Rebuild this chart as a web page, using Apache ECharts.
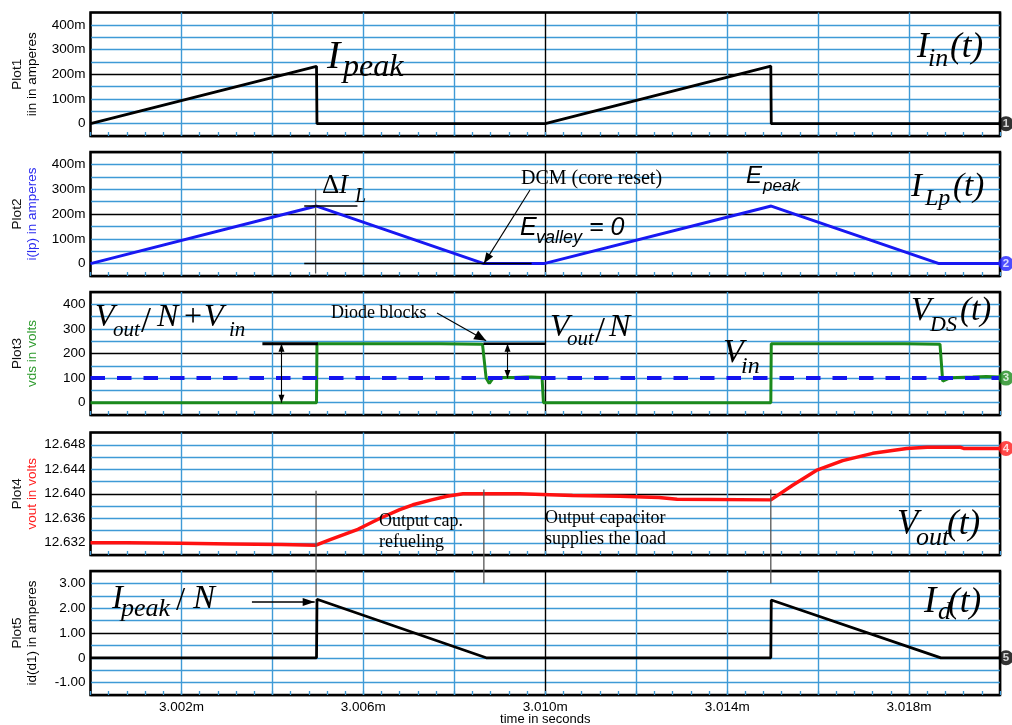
<!DOCTYPE html>
<html>
<head>
<meta charset="utf-8">
<script src="https://cdn.jsdelivr.net/npm/echarts@6/dist/echarts.min.js"></script>
<style>
html,body{margin:0;padding:0;background:#fff;}
#chart{width:1012px;height:725px;}
</style>
</head>
<body>
<div id="chart"></div>
<script>
// Flyback converter waveforms, time in microseconds (3000 us = 3.000 ms)

// Plot1: input current iin (A)
const iinT = [3000, 3004.97, 3004.98, 3010, 3014.96, 3014.97, 3020];
const iinV = [0, 0.232, 0, 0, 0.233, 0, 0];

// Plot2: primary inductor current i(lp) (A)
const ilpT = [3000, 3004.97, 3008.65, 3009.97, 3014.97, 3018.66, 3020];
const ilpV = [0, 0.232, 0, 0, 0.232, 0, 0];

// Plot3: drain-source voltage vds (V) and input voltage level
const vdsT = [3000, 3004.97, 3004.98, 3007.7, 3007.72, 3008.62, 3008.7, 3008.77, 3008.86, 3009.3, 3009.6, 3009.7, 3009.93, 3009.96,
              3014.96, 3014.97, 3017.9, 3017.92, 3018.68, 3018.74, 3018.78, 3018.9, 3019.4, 3019.7, 3020];
const vdsV = [0, 0, 240, 240, 238, 238, 100, 78, 102, 102, 104, 104, 102, 0,
              0, 240, 240, 238, 238, 88, 96, 101, 104, 106, 104];
const vinT = [3000, 3020];
const vinV = [100, 100];

// Plot4: output voltage vout (V)
const voutT = [3000, 3000.8, 3000.82, 3001.97, 3001.99, 3003.1, 3003.12, 3004.2, 3004.22, 3004.96, 3005.27, 3005.88,
               3006.37, 3006.8, 3007.09, 3007.5, 3007.84, 3008.19, 3009.44, 3009.46, 3010.6, 3010.62, 3011.64, 3011.66,
               3012.5, 3012.9, 3014.96, 3015.44, 3015.96, 3016.54, 3017.2, 3017.95, 3018.4, 3019.12, 3019.2, 3020];
const voutV = [12.6320, 12.6320, 12.6319, 12.6319, 12.6318, 12.6318, 12.6317, 12.6317, 12.6316, 12.6316, 12.6325, 12.6342,
               12.6360, 12.6374, 12.6382, 12.6390, 12.6396, 12.6400, 12.6400, 12.6397, 12.6397, 12.6396, 12.6396, 12.6395,
               12.6394, 12.6391, 12.6390, 12.6414, 12.6438, 12.6454, 12.6466, 12.6474, 12.6476, 12.6476, 12.6474, 12.6474];

// Plot5: diode current id(d1) (A)
const idT = [3000, 3004.97, 3004.98, 3008.7, 3014.96, 3014.97, 3018.7, 3020];
const idV = [0, 0, 2.36, 0, 0, 2.33, 0, 0];

// Axis captions
const plotNames = ['Plot1', 'Plot2', 'Plot3', 'Plot4', 'Plot5'];
const axisNames = ['iin in amperes', 'i(lp) in amperes', 'vds in volts', 'vout in volts', 'id(d1) in amperes'];
const xAxisName = 'time in seconds';

const SANS = '"Liberation Sans", Arial, sans-serif';
const SERIF = '"Liberation Serif", "Times New Roman", serif';
const B = '#3f9ad6';
const K = '#000';
const lineColors = ['#000', '#1818f2', '#1c8a1c', '#ff1111', '#000'];
const nameColors = ['#000', '#2a2af0', '#2e9b2e', '#ff2020', '#000'];
const gridColors = [K, B, B, B, B, K, B, B, B, B, K];

const pts = (t, v) => t.map((x, i) => [x, v[i]]);

const grids = [
  {top: 12.5, height: 123.5},
  {top: 152, height: 124},
  {top: 292, height: 123},
  {top: 432.5, height: 122.5},
  {top: 571, height: 124}
].map(g => Object.assign({left: 90.5, width: 909.5, show: true, borderColor: '#000', borderWidth: 2.5,
  backgroundColor: '#fff', containLabel: false, outerBoundsMode: 'none'}, g));

function xLabel(v) {
  const k = Math.round((v - 3000) / 2);
  return k % 2 === 1 ? (v / 1000).toFixed(3) + 'm' : '';
}
function milliLabel(v) {
  const m = Math.round(v * 1000);
  if (m % 100 !== 0 || m < 0 || m > 400) return '';
  return m === 0 ? '0' : m + 'm';
}
function voltLabel(v) {
  const r = Math.round(v);
  if (r % 100 !== 0 || r < 0 || r > 400) return '';
  return String(r);
}
function voutLabel(v) {
  const k = Math.round((v - 12.630) / 0.002);
  return k % 2 === 1 ? v.toFixed(3) : '';
}
function idLabel(v) {
  const k = Math.round(v * 2);
  if (k % 2 !== 0 || k < -2 || k > 6) return '';
  return k === 0 ? '0' : (k / 2).toFixed(2);
}

const yRanges = [
  {min: -0.05, max: 0.45, interval: 0.05, fmt: milliLabel},
  {min: -0.05, max: 0.45, interval: 0.05, fmt: milliLabel},
  {min: -50, max: 450, interval: 50, fmt: voltLabel},
  {min: 12.630, max: 12.650, interval: 0.002, fmt: voutLabel},
  {min: -1.5, max: 3.5, interval: 0.5, fmt: idLabel}
];

const xAxes = grids.map((g, i) => ({
  gridIndex: i, type: 'value', min: 3000, max: 3020, interval: 2, position: 'bottom',
  axisLine: {show: false, onZero: false},
  axisTick: {show: true, inside: true, length: 4, lineStyle: {color: B, width: 1.3}},
  minorTick: {show: true, splitNumber: 5, length: 4, lineStyle: {color: B, width: 1.3}},
  splitLine: {show: true, lineStyle: {color: gridColors, width: 1.4}},
  axisLabel: {show: i === 4, formatter: xLabel, color: '#000', fontSize: 13.5, fontFamily: SANS, margin: 5},
  name: i === 4 ? xAxisName : '', nameLocation: 'middle', nameGap: 18, nameMoveOverlap: false,
  nameTextStyle: {color: '#000', fontSize: 13, fontFamily: SANS}
}));

const yAxes = yRanges.map((r, i) => ({
  gridIndex: i, type: 'value', min: r.min, max: r.max, interval: r.interval,
  axisLine: {show: false, onZero: false}, axisTick: {show: false},
  splitLine: {show: true, lineStyle: {color: gridColors, width: 1.4}},
  axisLabel: {formatter: r.fmt, color: '#000', fontSize: 13.5, fontFamily: SANS, margin: 5},
  name: '{p|' + plotNames[i] + '}\n{q|' + axisNames[i] + '}',
  nameLocation: 'middle', nameRotate: 90, nameGap: 51, nameMoveOverlap: false,
  nameTextStyle: {
    align: 'center',
    rich: {
      p: {color: '#111', fontSize: 13.5, fontFamily: SANS, lineHeight: 15, align: 'center'},
      q: {color: nameColors[i], fontSize: 13.5, fontFamily: SANS, lineHeight: 15, align: 'center'}
    }
  }
}));

function trace(i, t, v, color, width, extra) {
  return Object.assign({
    type: 'line', xAxisIndex: i, yAxisIndex: i, data: pts(t, v), showSymbol: false, symbol: 'none',
    lineStyle: {color: color, width: width}, z: 3, animation: false
  }, extra || {});
}
function tag(i, v, color, num) {
  return {
    type: 'scatter', xAxisIndex: i, yAxisIndex: i, data: [[3020, v[v.length - 1]]], clip: false,
    symbol: 'circle', symbolSize: 15, symbolOffset: [6, 0], itemStyle: {color: color}, z: 6,
    label: {show: true, position: 'inside', formatter: String(num), color: '#fff', fontWeight: 'bold',
      fontSize: 11.5, fontFamily: SANS}
  };
}

const series = [
  trace(0, iinT, iinV, lineColors[0], 2.8),
  trace(1, ilpT, ilpV, lineColors[1], 3),
  trace(2, vdsT, vdsV, lineColors[2], 3),
  trace(2, vinT, vinV, '#1515f0', 4, {lineStyle: {color: '#1515f0', width: 4, type: [14.5, 12], cap: 'butt'}, z: 4}),
  trace(3, voutT, voutV, lineColors[3], 3.5),
  trace(4, idT, idV, lineColors[4], 2.8),
  tag(0, iinV, '#000', 1),
  tag(1, ilpV, '#2020ff', 2),
  tag(2, vinV, '#1c8a1c', 3),
  tag(3, voutV, '#ff1a1a', 4),
  tag(4, idV, '#000', 5)
];

const chart = echarts.init(document.getElementById('chart'), null, {renderer: 'canvas'});
chart.setOption({
  animation: false,
  backgroundColor: '#fff',
  grid: grids,
  xAxis: xAxes,
  yAxis: yAxes,
  series: series
});

// Annotations anchored to data coordinates
const P = (g, t, v) => chart.convertToPixel({gridIndex: g}, [t, v]);
const G = [];
function seg(p1, p2, w, c) {
  G.push({type: 'line', z: 50, silent: true,
    shape: {x1: p1[0], y1: p1[1], x2: p2[0], y2: p2[1]},
    style: {stroke: c || '#000', lineWidth: w || 1.3}});
}
function head(tip, from, len, wid) {
  const dx = tip[0] - from[0], dy = tip[1] - from[1];
  const d = Math.hypot(dx, dy) || 1;
  const ux = dx / d, uy = dy / d;
  const bx = tip[0] - ux * len, by = tip[1] - uy * len;
  const px = -uy * wid / 2, py = ux * wid / 2;
  G.push({type: 'polygon', z: 51, silent: true,
    shape: {points: [[tip[0], tip[1]], [bx + px, by + py], [bx - px, by - py]]},
    style: {fill: '#000'}});
}
function arrow(from, tip, w, len, wid) { seg(from, tip, w); head(tip, from, len, wid); }
function dbl(p1, p2, w, len, wid) { seg(p1, p2, w); head(p1, p2, len, wid); head(p2, p1, len, wid); }
function tx(x, base, s, size, italic, family, color) {
  const fam = family || SERIF;
  const k = fam === SANS ? 0.3465 : 0.3375;
  G.push({type: 'text', z: 60, silent: true, x: x, y: base - k * size,
    style: {text: s, fontSize: size, fontFamily: fam, fontStyle: italic ? 'italic' : 'normal',
      fill: color || '#000', align: 'left', verticalAlign: 'middle'}});
}

// Plot1
tx(327, 71, 'I', 40, true);
tx(343, 78, 'peak', 32, true);
tx(917, 60, 'I', 35, true);
tx(928, 68, 'in', 26, true);
tx(950, 60, '(t)', 35, true);

// Plot2
seg(P(1, 3004.95, 0.30), P(1, 3004.95, -0.04), 1.3, '#555');
seg(P(1, 3004.7, 0.232), P(1, 3005.87, 0.232), 1.5);
seg(P(1, 3004.7, 0), P(1, 3009.7, 0), 1.5);
tx(322, 195, '\u0394', 27, false);
tx(339, 195, 'I', 27, true);
tx(355, 203, 'L', 20, true);
tx(521, 185, 'DCM (core reset)', 20, false);
arrow([530, 190], P(1, 3008.65, 0), 1.1, 11, 8);
tx(520, 237, 'E', 25, true, SANS);
tx(536, 244, 'valley', 18, true, SANS);
tx(589, 237, '= 0', 25, true, SANS);
tx(746, 185, 'E', 24, true, SANS);
tx(763, 192, 'peak', 17, true, SANS);
tx(911, 198, 'I', 33, true);
tx(925, 207, 'Lp', 24, true);
tx(953, 198, '(t)', 33, true);

// Plot3
seg(P(2, 3003.78, 240), P(2, 3005.0, 240), 3);
dbl(P(2, 3004.2, 240), P(2, 3004.2, 0), 1.1, 8, 6);
seg(P(2, 3008.64, 240), P(2, 3010, 240), 2.5);
dbl(P(2, 3009.17, 240), P(2, 3009.17, 100), 1.1, 8, 6);
tx(95, 328, 'V', 32, true);
tx(113, 338, 'out', 21, true);
tx(141, 335, '/', 36, false);
tx(157, 328, 'N', 32, true);
tx(184, 328, '+', 32, false);
tx(204, 328, 'V', 32, true);
tx(229, 338, 'in', 21, true);
tx(331, 319, 'Diode blocks', 18, false);
arrow([437, 313], P(2, 3008.7, 252), 1.1, 12, 10);
tx(550, 338, 'V', 32, true);
tx(567, 347, 'out', 21, true);
tx(595, 345, '/', 36, false);
tx(609, 338, 'N', 32, true);
tx(723, 365, 'V', 34, true);
tx(741, 375, 'in', 24, true);
tx(911, 322, 'V', 33, true);
tx(930, 333, 'DS', 22, true);
tx(960, 322, '(t)', 33, true);

// Plot4 / Plot5 cursors
seg(P(3, 3004.96, 12.6405), P(4, 3004.96, 2.45), 1.3, '#555');
seg(P(3, 3008.65, 12.6407), P(4, 3008.65, 3.0), 1.3, '#555');
seg(P(3, 3014.96, 12.6407), P(4, 3014.96, 3.0), 1.3, '#555');
tx(379, 527, 'Output cap.', 18, false);
tx(379, 548, 'refueling', 18, false);
tx(545, 524, 'Output capacitor', 18, false);
tx(545, 545, 'supplies the load', 18, false);
tx(897, 537, 'V', 35, true);
tx(916, 547, 'out', 26, true);
tx(947, 537, '(t)', 35, true);

// Plot5
arrow(P(4, 3003.55, 2.25), P(4, 3004.93, 2.25), 1.3, 12, 8);
tx(112, 610, 'I', 33, true);
tx(121, 618, 'peak', 26, true);
tx(176, 612, '/', 33, false);
tx(193, 610, 'N', 33, true);
tx(924, 615, 'I', 37, true);
tx(938, 621, 'd', 26, true);
tx(948, 615, '(t)', 35, true);

chart.setOption({graphic: G});
</script>
</body>
</html>
